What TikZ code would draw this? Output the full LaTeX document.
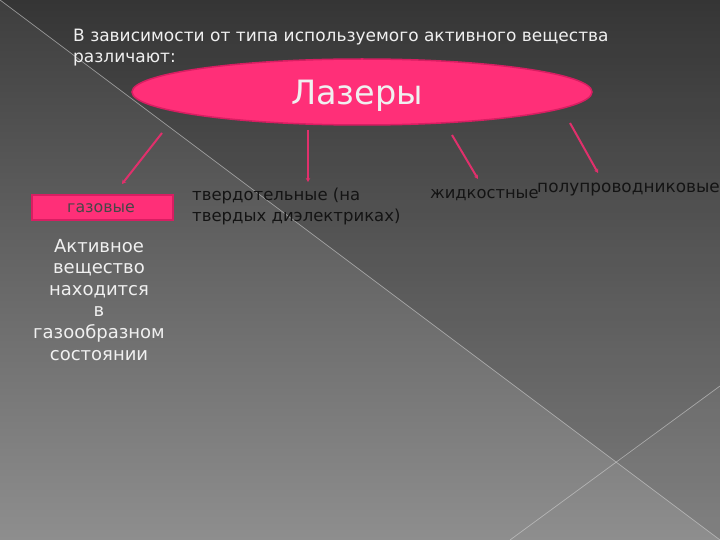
\documentclass[tikz,border=0pt]{standalone}
\usepackage{fontspec}
\setmainfont{DejaVu Sans}
\usetikzlibrary{shapes.geometric,arrows.meta}
\definecolor{pinkfill}{HTML}{FF2F78}
\definecolor{pinkedge}{HTML}{D81E62}
\definecolor{arrowpink}{HTML}{E0306C}
\definecolor{bgtop}{HTML}{3E3E3E}
\definecolor{bgbot}{HTML}{8E8E8E}
\tikzset{
  whitetxt/.style={text=white!94!black, inner sep=0pt},
  darktxt/.style={text=black!92, anchor=base west, inner sep=0pt, align=left},
  linkarrow/.style={draw=arrowpink, line width=2pt, -{Stealth[length=4pt,width=4.5pt]}},
  bgline/.style={draw=white!65!gray, line width=0.7pt, opacity=0.6}
}
\begin{document}
\begin{tikzpicture}[x=1pt,y=-1pt]
\useasboundingbox (0,0) rectangle (720,540);
% background
\shade[top color=bgtop, bottom color=bgbot] (0,0) rectangle (720,540);
\fill[black, opacity=0.13] (0,0) -- (720,0) -- (720,540) -- cycle;
\fill[white, opacity=0.04] (720,386) -- (617,463) -- (720,540) -- cycle;
\draw[bgline] (0,0) -- (720,540);
\draw[bgline] (720,386) -- (510,540);
% title (base anchor = baseline of the last line)
\node[whitetxt, align=left, anchor=base west, font=\fontsize{17}{21}\selectfont] (title) at (73,63) {В зависимости от типа используемого активного вещества\\различают:};
% main ellipse
\node[ellipse, fill=pinkfill, draw=pinkedge, line width=1.5pt, minimum width=460pt, minimum height=66pt, inner sep=0pt] (laser) at (362,92) {};
\node[whitetxt, anchor=base, font=\fontsize{33.5}{36}\selectfont] (lasertxt) at (357,105) {Лазеры};
% children
\node[rectangle, fill=pinkfill, draw=pinkedge, line width=1.5pt, minimum width=141pt, minimum height=25pt, inner sep=0pt] (gas) at (102.5,207.5) {};
\node[text=black!72, inner sep=0pt, anchor=base, font=\fontsize{15.8}{18}\selectfont] (gastxt) at (101,212) {газовые};
\node[whitetxt, align=center, anchor=base, font=\fontsize{18}{21.6}\selectfont] (gasdesc) at (99,360) {Активное\\вещество\\находится\\в\\газообразном\\состоянии};
\node[darktxt, font=\fontsize{16.5}{21}\selectfont] (solid) at (192,222) {твердотельные (на\\твердых диэлектриках)};
\node[darktxt, font=\fontsize{16.3}{20}\selectfont] (liquid) at (430,199) {жидкостные};
\node[darktxt, font=\fontsize{16.9}{20}\selectfont] (semi) at (537,193) {полупроводниковые};
% arrow anchors
\coordinate (a1s) at (162,133);
\coordinate (a1e) at (122,184);
\coordinate (a2s) at (308,130);
\coordinate (a2e) at (308,182);
\coordinate (a3s) at (452,135);
\coordinate (a3e) at (478,179);
\coordinate (a4s) at (570,123);
\coordinate (a4e) at (598,173);
\draw[linkarrow] (a1s) -- (a1e);
\draw[linkarrow] (a2s) -- (a2e);
\draw[linkarrow] (a3s) -- (a3e);
\draw[linkarrow] (a4s) -- (a4e);
\end{tikzpicture}
\end{document}
